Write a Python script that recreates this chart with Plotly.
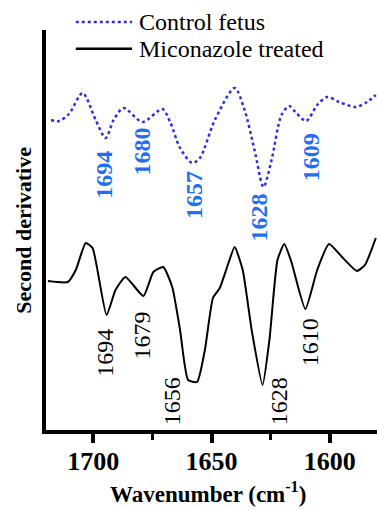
import plotly.graph_objects as go

# ---- data (wavenumber in cm^-1, second derivative in arbitrary units) ----
wn_control = [1717.9, 1714.5, 1710.3, 1704.5, 1699.0, 1694.8, 1691.4, 1687.2, 1679.2,
              1670.8, 1667.5, 1663.3, 1658.2, 1654.9, 1648.6, 1640.2, 1636.0, 1631.8,
              1628.0, 1624.6, 1620.4, 1617.1, 1614.5, 1610.0, 1605.3, 1601.1, 1596.0,
              1588.9, 1584.2, 1580.5]
d2_control = [312, 311, 318, 339, 312, 294, 312, 324, 310,
              323, 310, 284, 269, 274, 312, 344, 322, 282,
              245, 272, 317, 326, 320, 311, 327, 335, 330,
              325, 330, 337]

wn_treated = [1719.2, 1710.8, 1707.4, 1703.2, 1700.3, 1694.4, 1690.6, 1686.4, 1678.8,
              1674.6, 1670.4, 1666.6, 1663.3, 1659.9, 1656.1, 1652.8, 1649.4, 1646.5,
              1643.1, 1640.2, 1636.8, 1633.0, 1628.4, 1625.5, 1622.1, 1619.2, 1616.2,
              1610.3, 1605.3, 1600.3, 1594.8, 1588.5, 1585.1, 1580.5]
d2_treated = [151, 150, 162, 189, 184, 117, 142, 155, 136,
              160, 165, 145, 102, 52, 50, 82, 134, 144,
              167, 185, 162, 102, 47, 92, 172, 188, 170,
              123, 162, 188, 175, 161, 167, 194]

labels_control = ["1694", "1680", "1657", "1628", "1609"]
labels_control_x = [1695.6, 1679.2, 1657.4, 1629.7, 1607.8]
labels_control_y = [257, 281, 237, 215, 275]

labels_treated = ["1694", "1679", "1656", "1628", "1610"]
labels_treated_x = [1695.2, 1679.2, 1666.6, 1621.3, 1608.2]
labels_treated_y = [79, 97, 31, 31, 90]

x_ticks = [1700, 1650, 1600]
x_minor_ticks = [1675, 1625]
series_names = ["Control fetus", "Miconazole treated"]

BLUE_LINE = "#2e2ee0"
BLUE_TEXT = "#1f6ff0"
FONT = "Liberation Serif, Times New Roman, serif"

fig = go.Figure()
fig.add_trace(go.Scatter(x=wn_control, y=d2_control, mode="lines", name=series_names[0],
                         line=dict(color=BLUE_LINE, width=2.5, dash="dot", shape="spline", smoothing=0.8),
                         showlegend=False, hoverinfo="skip"))
fig.add_trace(go.Scatter(x=wn_treated, y=d2_treated, mode="lines", name=series_names[1],
                         line=dict(color="black", width=2, shape="spline", smoothing=0.5),
                         showlegend=False, hoverinfo="skip"))

annotations = []
for t, x, y in zip(labels_control, labels_control_x, labels_control_y):
    annotations.append(dict(x=x, y=y, xref="x", yref="y", text="<b>%s</b>" % t, showarrow=False,
                            textangle=-90, font=dict(family=FONT, size=24, color=BLUE_TEXT)))
for t, x, y in zip(labels_treated, labels_treated_x, labels_treated_y):
    annotations.append(dict(x=x, y=y, xref="x", yref="y", text=t, showarrow=False,
                            textangle=-90, font=dict(family=FONT, size=24, color="black")))

# legend (drawn manually to match long line samples)
leg_y = [1.02, 0.953]
leg_styles = [dict(color=BLUE_LINE, width=2.5, dash="dot"), dict(color="black", width=2.5)]
shapes = []
for name, ly, st in zip(series_names, leg_y, leg_styles):
    shapes.append(dict(type="line", xref="paper", yref="paper", x0=0.09, x1=0.26, y0=ly, y1=ly, line=st))
    annotations.append(dict(x=0.276, y=ly, xref="paper", yref="paper", text=name, showarrow=False,
                            xanchor="left", yanchor="middle", font=dict(family=FONT, size=24, color="black")))

annotations.append(dict(x=-0.07, y=0.5, xref="paper", yref="paper", text="<b>Second derivative</b>",
                        showarrow=False, textangle=-90, xanchor="center", yanchor="middle",
                        font=dict(family=FONT, size=22, color="black")))
annotations.append(dict(x=0.49, y=-0.155, xref="paper", yref="paper",
                        text="<b>Wavenumber (cm<sup>-1</sup>)</b>",
                        showarrow=False, xanchor="center", yanchor="middle",
                        font=dict(family=FONT, size=23, color="black")))

fig.update_layout(
    width=377, height=510,
    margin=dict(l=46, r=0, t=30, b=80),
    paper_bgcolor="white", plot_bgcolor="white",
    annotations=annotations, shapes=shapes,
    showlegend=False, hovermode=False,
    xaxis=dict(range=[1720, 1580], tickvals=x_ticks, ticktext=["<b>%d</b>" % v for v in x_ticks],
               ticks="outside", ticklen=9, tickwidth=3.5, tickcolor="black", ticklabelstandoff=-4,
               minor=dict(tickvals=x_minor_ticks, ticks="outside", ticklen=6, tickwidth=3, tickcolor="black"),
               showline=True, linecolor="black", linewidth=3.5, showgrid=False, zeroline=False,
               tickfont=dict(family=FONT, size=26, color="black")),
    yaxis=dict(range=[2, 402], showticklabels=False, ticks="", showline=True, linecolor="black",
               linewidth=3.5, showgrid=False, zeroline=False),
)

fig.write_html("out.html", config={"displayModeBar": False},
               post_script="document.body.style.margin='0';document.body.style.overflow='hidden';")
